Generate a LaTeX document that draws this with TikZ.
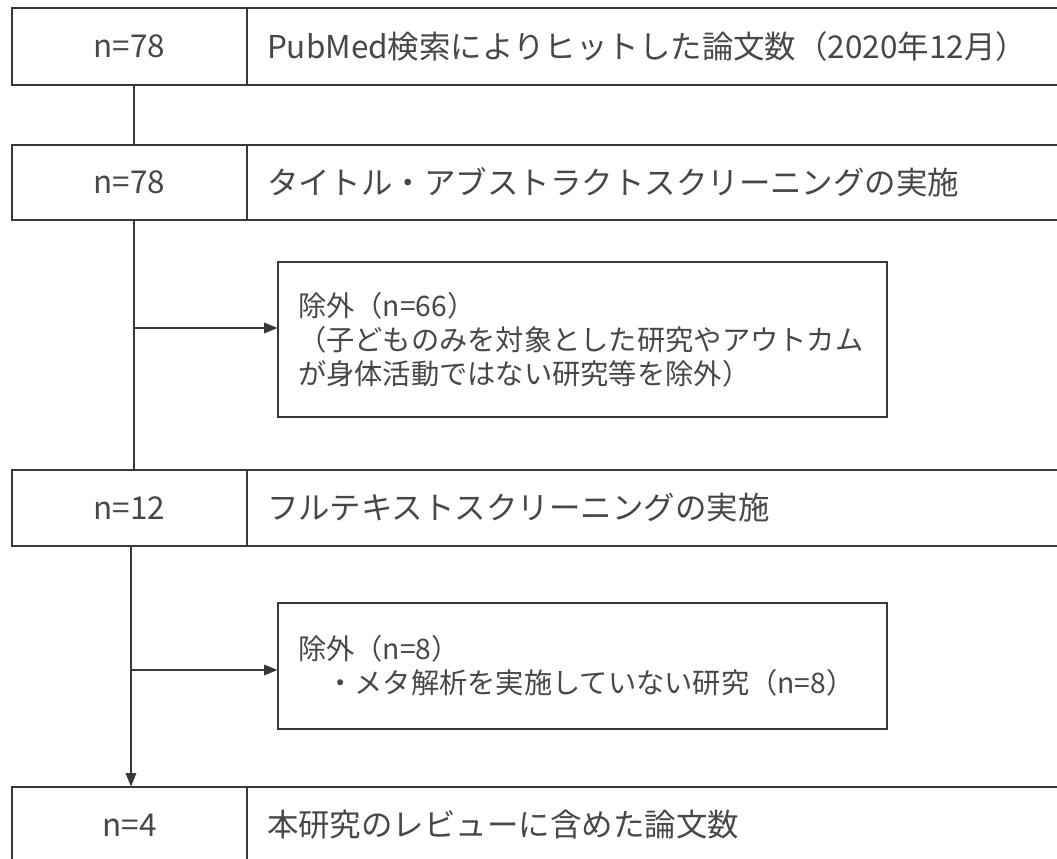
\documentclass[tikz,border=0pt]{standalone}
\usepackage{fontspec}
\setmainfont{Noto Sans CJK JP}
\usetikzlibrary{arrows.meta}
\begin{document}
\begin{tikzpicture}[x=0.75pt,y=-0.75pt,
  line/.style={draw=black!78, line width=0.85pt},
  arr/.style={line, -{Triangle[length=10pt,width=8pt]}},
  cell/.style={line, rectangle, inner ysep=0pt, text=black!72,
    font=\fontsize{23.6pt}{28pt}\selectfont},
  lcell/.style={cell, inner xsep=0pt, minimum width=176.25pt, align=center},
  rcell/.style={cell, inner xsep=15pt, text width=583.5pt, align=left},
  excl/.style={line, rectangle, inner xsep=15pt, inner ysep=0pt, text=black!72,
    text width=426.75pt, align=left, font=\fontsize{21.2pt}{25.5pt}\selectfont}
]
\useasboundingbox (0,0) rectangle (1057,859);
% row 1
\node[lcell, minimum height=57.75pt] (l1) at (129.5,46.5) {n=78};
\node[rcell, minimum height=57.75pt] (r1) at (656,46.5) {PubMed検索によりヒットした論文数（2020年12月）};
% row 2
\node[lcell, minimum height=56.25pt] (l2) at (129.5,182.5) {n=78};
\node[rcell, minimum height=56.25pt] (r2) at (656,182.5) {タイトル・アブストラクトスクリーニングの実施};
% exclusion 1
\node[excl, minimum height=116.25pt] (e1) at (582.5,339.5) {除外（n=66）\\（子どものみを対象とした研究やアウトカム\\が身体活動ではない研究等を除外）};
% row 3
\node[lcell, minimum height=57pt] (l3) at (129.5,508) {n=12};
\node[rcell, minimum height=57pt] (r3) at (656,508) {フルテキストスクリーニングの実施};
% exclusion 2
\node[excl, minimum height=94.5pt] (e2) at (582.5,666) {除外（n=8）\\　・メタ解析を実施していない研究（n=8）};
% row 4
\node[lcell, minimum height=57pt] (l4) at (129.5,825) {n=4};
\node[rcell, minimum height=57pt] (r4) at (656,825) {本研究のレビューに含めた論文数};
% trunk coordinates
\coordinate (t1) at (134,0);
\coordinate (t2) at (131,0);
\coordinate (b1) at (134,328);
\coordinate (b2) at (131,670);
% connectors
\draw[line] (l1.south -| t1) -- (l2.north -| t1);
\draw[line] (l2.south -| t1) -- (l3.north -| t1);
\draw[arr] (b1) -- (b1 -| e1.west);
\draw[arr] (l3.south -| t2) -- (l4.north -| t2);
\draw[arr] (b2) -- (b2 -| e2.west);
\end{tikzpicture}
\end{document}
